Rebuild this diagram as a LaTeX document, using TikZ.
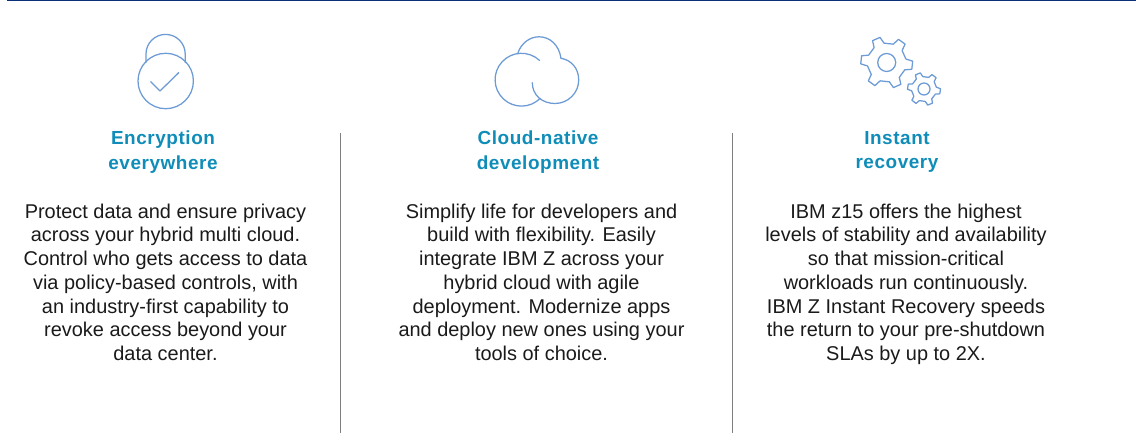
\documentclass[tikz,border=0pt]{standalone}
\usepackage{fontspec}
\setmainfont{Liberation Sans}
\definecolor{topbar}{HTML}{0B2F7A}
\definecolor{iconblue}{HTML}{6C9BD6}
\definecolor{headteal}{HTML}{0F8DB8}
\definecolor{bodytext}{HTML}{1A1A1A}
\definecolor{rulegrey}{HTML}{7F7F7F}
\tikzset{
  iconline/.style={draw=iconblue,line width=0.95pt,line cap=round,line join=round},
  heading/.style={align=center,text=headteal,font=\fontsize{14.2}{18.4}\selectfont\addfontfeatures{LetterSpace=3}\bfseries,anchor=north,inner sep=0pt},
  bodypara/.style={align=center,text=bodytext,font=\fontsize{14.95}{17.8}\selectfont,anchor=north,inner sep=0pt},
  divider/.style={draw=rulegrey,line width=0.6pt}
}
\newcommand{\gearshape}[6]{%
  \pgfmathsetmacro{\stepang}{360/#3}
  \draw[iconline] \foreach \k in {1,...,#3} {
    \ifnum\k=1 ($(#1,#2)+({#6+\k*\stepang-0.27*\stepang}:#5)$) \else -- ($(#1,#2)+({#6+\k*\stepang-0.27*\stepang}:#5)$) \fi
    -- ($(#1,#2)+({#6+\k*\stepang-0.15*\stepang}:#4)$)
    -- ($(#1,#2)+({#6+\k*\stepang+0.15*\stepang}:#4)$)
    -- ($(#1,#2)+({#6+\k*\stepang+0.27*\stepang}:#5)$)
  } -- cycle;
}
\usetikzlibrary{calc}
\begin{document}
\begin{tikzpicture}[x=0.75pt,y=-0.75pt]
\useasboundingbox (0,0) rectangle (1136,448);
\coordinate (barL) at (7,0.7); \coordinate (barR) at (1136,0.7);
\draw[topbar,line width=1pt] (barL) -- (barR);
\coordinate (d1t) at (340.5,133); \coordinate (d1b) at (340.5,433);
\coordinate (d2t) at (732.5,133); \coordinate (d2b) at (732.5,433);
\draw[divider] (d1t) -- (d1b);
\draw[divider] (d2t) -- (d2b);
% lock
\draw[iconline] (165.7,81) circle (27.7);
\draw[iconline] (146,62.5) -- (146,54) arc[start angle=180,end angle=360,radius=19.6] -- (185.2,62.5);
\draw[iconline] (150.7,81.7) -- (160,91) -- (178.7,72.7);
% cloud
\draw[iconline] (539.5,60.4) arc[start angle=-47,delta angle=-268,radius=26.4];
\draw[iconline] (517.7,53.6) .. controls (521,43) and (530,36.8) .. (539,36.8) .. controls (550,36.8) and (559,45) .. (561,58.3);
\draw[iconline] (532.3,82.7) .. controls (532.3,95) and (542,103.5) .. (555,103.5) .. controls (568,103.5) and (578.7,93) .. (578.7,80) .. controls (578.7,68) and (571,60) .. (561,58.3);
% gears
\gearshape{886.7}{62.5}{6}{26}{19.5}{6}
\draw[iconline] (886.7,62.5) circle (9);
\gearshape{924}{89}{6}{16.5}{12.5}{8}
\draw[iconline] (924,89) circle (6);
% text
\node[heading] (h1) at (163,131) {Encryption\\everywhere};
\node[heading] (h2) at (538,131) {Cloud-native\\development};
\node[heading] (h3) at (897,131) {Instant\\recovery};
\node[bodypara] (b1) at (165.5,203.5) {Protect data and ensure privacy\\across your hybrid multi cloud.\\Control who gets access to data\\via policy-based controls, with\\an industry-first capability to\\revoke access beyond your\\data center.};
\node[bodypara] (b2) at (541.5,203.5) {Simplify life for developers and\\build with flexibility. Easily\\integrate IBM Z across your\\hybrid cloud with agile\\deployment. Modernize apps\\and deploy new ones using your\\tools of choice.};
\node[bodypara] (b3) at (906,203.5) {IBM z15 offers the highest\\levels of stability and availability\\so that mission-critical\\workloads run continuously.\\IBM Z Instant Recovery speeds\\the return to your pre-shutdown\\SLAs by up to 2X.};
\end{tikzpicture}
\end{document}
